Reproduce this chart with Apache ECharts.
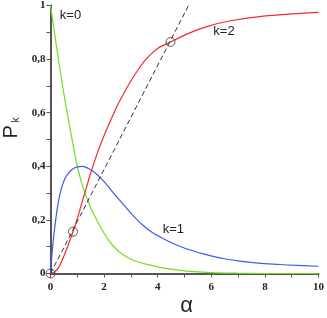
<!DOCTYPE html>
<html>
<head>
<meta charset="utf-8">
<script src="https://cdn.jsdelivr.net/npm/echarts@6/dist/echarts.min.js"></script>
<style>html,body{margin:0;padding:0;background:#fff;}#c{width:327px;height:318px;}</style>
</head>
<body>
<div id="c"></div>
<script>
// k=0 (green)
var alphaK0 = [0, 0.25, 0.5, 0.75, 1.0, 1.25, 1.5, 1.75, 2.0, 2.2, 2.4, 2.6, 2.8, 3.0, 3.3, 3.6, 4.0, 4.5, 5.0, 5.5, 6.0, 7.0, 8.0, 10.0];
var pK0    = [1.0, 0.83, 0.67, 0.53, 0.40, 0.31, 0.245, 0.195, 0.15, 0.12, 0.096, 0.078, 0.064, 0.053, 0.042, 0.034, 0.025, 0.016, 0.010, 0.006, 0.003, 0.001, 0.0, 0.0];
// k=1 (blue)
var alphaK1 = [0, 0.05, 0.1, 0.2, 0.3, 0.4, 0.5, 0.6, 0.8, 1.0, 1.2, 1.4, 1.64, 2.0, 2.37, 2.74, 3.11, 3.47, 3.84, 4.21, 4.58, 4.94, 5.31, 5.68, 6.1, 6.54, 7.0, 7.76, 8.5, 9.0, 10.0];
var pK1    = [0, 0.065, 0.12, 0.205, 0.27, 0.315, 0.345, 0.365, 0.388, 0.398, 0.40, 0.393, 0.378, 0.343, 0.298, 0.255, 0.213, 0.178, 0.150, 0.130, 0.112, 0.097, 0.085, 0.074, 0.063, 0.054, 0.047, 0.039, 0.034, 0.031, 0.027];
// k=2 (red)
var alphaK2 = [0, 0.15, 0.3, 0.5, 0.84, 1.0, 1.25, 1.5, 1.75, 2.0, 2.37, 2.5, 2.92, 3.3, 3.66, 4.0, 4.48, 5.13, 5.86, 6.72, 7.95, 10.0];
var pK2    = [0, 0.006, 0.022, 0.065, 0.156, 0.205, 0.29, 0.375, 0.45, 0.515, 0.60, 0.628, 0.705, 0.765, 0.81, 0.84, 0.864, 0.895, 0.922, 0.943, 0.960, 0.974];
// dashed straight line and marked points
var lineAlpha = [0, 5.15];
var lineP     = [0, 1.0];
var markAlpha = [0, 0.84, 4.48];
var markP     = [0, 0.156, 0.864];
// ticks
var xTicks = [0, 2, 4, 6, 8, 10];
var yTicks = ['0', '0,2', '0,4', '0,6', '0,8', '1'];

function zip(a, b) { return a.map(function (v, i) { return [v, b[i]]; }); }

var chart = echarts.init(document.getElementById('c'), null, {renderer: 'canvas'});
var axisCol = '#555';
var labelStyle = {fontFamily: 'Liberation Serif', fontWeight: 'bold', fontSize: 11, color: '#222'};
function curve(a, p, col) {
  return {type: 'line', data: zip(a, p), smooth: 0.3, showSymbol: false,
    lineStyle: {color: col, width: 1.2}, z: 2};
}
chart.setOption({
  animation: false,
  backgroundColor: '#fff',
  grid: {left: 50.5, right: 4.7, top: 3, bottom: 44.5, containLabel: false},
  xAxis: {
    type: 'value', min: 0, max: 10, interval: 2,
    axisLine: {show: true, lineStyle: {color: axisCol, width: 2}},
    axisTick: {show: true, length: 4, lineStyle: {color: axisCol, width: 1}},
    minorTick: {show: true, splitNumber: 2, length: 4, lineStyle: {color: axisCol, width: 1}},
    splitLine: {show: false},
    axisLabel: Object.assign({margin: 8, formatter: function (v) { return xTicks.indexOf(v) >= 0 ? String(v) : ''; }}, labelStyle)
  },
  yAxis: {
    type: 'value', min: 0, max: 1, interval: 0.2,
    axisLine: {show: true, lineStyle: {color: axisCol, width: 2}},
    axisTick: {show: true, length: 4, lineStyle: {color: axisCol, width: 1}},
    minorTick: {show: true, splitNumber: 2, length: 4, lineStyle: {color: axisCol, width: 1}},
    splitLine: {show: false},
    axisLabel: Object.assign({margin: 5, formatter: function (v) { return yTicks[Math.round(v * 5)]; }}, labelStyle)
  },
  graphic: [
    {type: 'text', x: 70.5, y: 15, style: {text: 'k=0', fontFamily: 'Liberation Sans', fontSize: 13, fill: '#222', textAlign: 'center', textVerticalAlign: 'middle'}},
    {type: 'text', x: 224, y: 31.5, style: {text: 'k=2', fontFamily: 'Liberation Sans', fontSize: 13, fill: '#222', textAlign: 'center', textVerticalAlign: 'middle'}},
    {type: 'text', x: 173.3, y: 229, style: {text: 'k=1', fontFamily: 'Liberation Sans', fontSize: 13, fill: '#222', textAlign: 'center', textVerticalAlign: 'middle'}},
    {type: 'text', x: 186.5, y: 306, style: {text: 'α', fontFamily: 'Liberation Sans', fontSize: 22, fill: '#222', textAlign: 'center', textVerticalAlign: 'middle'}},
    {type: 'text', x: 11, y: 128, rotation: Math.PI / 2,
      style: {text: '{p|P}{k| k}', textAlign: 'center', textVerticalAlign: 'middle', fill: '#222',
        rich: {p: {fontFamily: 'Liberation Sans', fontSize: 20, fill: '#222'}, k: {fontFamily: 'Liberation Sans', fontSize: 10, fill: '#222', verticalAlign: 'bottom'}}}}
  ],
  series: [
    curve(alphaK0, pK0, '#6fe01e'),
    curve(alphaK1, pK1, '#3a5cf0'),
    curve(alphaK2, pK2, '#f42a2a'),
    {type: 'line', data: zip(lineAlpha, lineP), showSymbol: false, lineStyle: {color: '#333', width: 1, type: [5, 3]}, z: 3},
    {type: 'scatter', data: zip(markAlpha, markP), symbol: 'circle', symbolSize: 9,
      itemStyle: {color: 'rgba(0,0,0,0)', borderColor: '#333', borderWidth: 1}, z: 4}
  ]
});
</script>
</body>
</html>
